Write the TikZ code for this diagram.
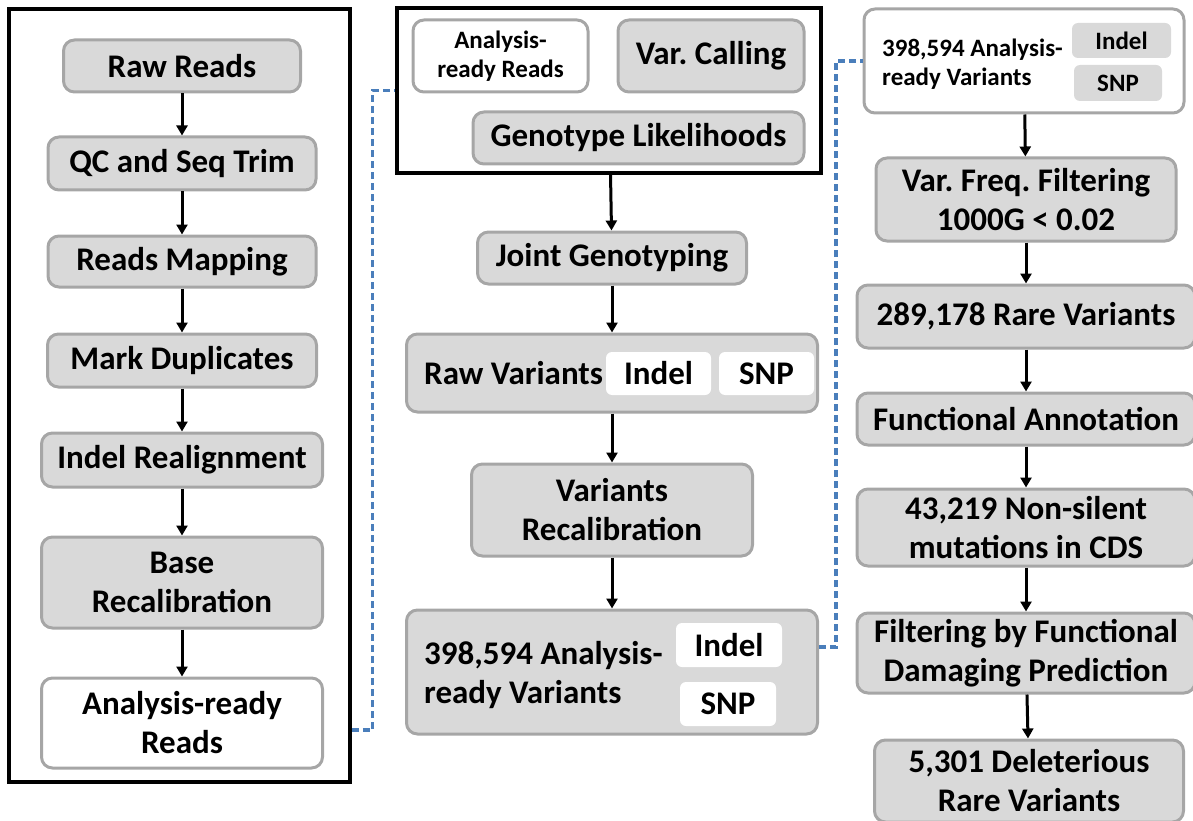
\documentclass[tikz,border=0pt]{standalone}
\usepackage{fontspec}
\setmainfont{Carlito}
\usetikzlibrary{arrows.meta}
\frenchspacing

\definecolor{boxfill}{HTML}{D9D9D9}
\definecolor{boxline}{HTML}{A6A6A6}
\definecolor{linkblue}{HTML}{4A7EBB}

\begin{document}
\begin{tikzpicture}[x=1pt, y=-1pt,
  stage/.style={draw=boxline, fill=boxfill, line width=3pt, rounded corners=11pt,
    align=center, inner sep=0pt, font=\bfseries\fontsize{33}{39}\selectfont},
  small/.style={font=\bfseries\fontsize{25}{29}\selectfont},
  label text/.style={anchor=west, align=left, inner sep=0pt, font=\bfseries\fontsize{33}{39}\selectfont},
  tag/.style={fill=white, rounded corners=6pt, inner sep=0pt, font=\bfseries\fontsize{33}{39}\selectfont},
  frame/.style={draw=black, line width=3.5pt, inner sep=0pt},
  flow/.style={line width=3pt, -{Triangle[length=10pt, width=11pt]}},
  link/.style={draw=linkblue, line width=3.3pt, dash pattern=on 7pt off 4pt}]
\useasboundingbox (0,0) rectangle (1193,821);
\clip (0,0) rectangle (1193,821);

% pre-processing
\node[frame, minimum width=341, minimum height=773] (leftbox) at (179.5,395.5) {};
\node[stage, minimum width=237, minimum height=52] (raw) at (182,66) {Raw Reads};
\node[stage, minimum width=268, minimum height=53] (qc) at (182,163.5) {QC and Seq Trim};
\node[stage, minimum width=268, minimum height=51] (map) at (182,261.5) {Reads Mapping};
\node[stage, minimum width=269, minimum height=53] (dup) at (182,360.5) {Mark Duplicates};
\node[stage, minimum width=281, minimum height=54] (realign) at (182,460) {Indel Realignment};
\node[stage, minimum width=281, minimum height=91] (bqsr) at (182,582.5) {Base\\Recalibration};
\node[stage, fill=white, minimum width=281, minimum height=90] (ready) at (182,723) {Analysis-ready\\Reads};

\draw[flow] (raw) -- (qc);
\draw[flow] (qc) -- (map);
\draw[flow] (map) -- (dup);
\draw[flow] (dup) -- (realign);
\draw[flow] (realign) -- (bqsr);
\draw[flow] (bqsr) -- (ready);

% calling
\node[frame, minimum width=424, minimum height=165] (midbox) at (609,90.5) {};
\node[stage, small, fill=white, minimum width=175, minimum height=72] (inready) at (500.5,56) {Analysis-\\ready Reads};
\node[stage, minimum width=186, minimum height=72] (call) at (711,56) {Var. Calling};
\node[stage, minimum width=331, minimum height=52] (gl) at (638.5,138) {Genotype Likelihoods};
\node[stage, minimum width=269, minimum height=52] (joint) at (612,258) {Joint Genotyping};
\node[stage, minimum width=411, minimum height=78] (rawvar) at (612,373) {};
\node[label text] (rawlbl) at (424,373) {Raw Variants};
\node[tag, minimum width=105, minimum height=43] (rawindel) at (658.5,373.5) {Indel};
\node[tag, minimum width=95, minimum height=43] (rawsnp) at (766.5,373.5) {SNP};
\node[stage, minimum width=281, minimum height=92] (vqsr) at (612,510) {Variants\\Recalibration};
\node[stage, minimum width=411, minimum height=124] (anvar) at (612,672) {};
\node[label text] (anlbl) at (424,675) {398,594 Analysis-\\ready Variants};
\node[tag, minimum width=106, minimum height=44] (anindel) at (729,645) {Indel};
\node[tag, minimum width=96, minimum height=44] (ansnp) at (728,704) {SNP};

\draw[flow] (midbox) -- (joint);
\draw[flow] (joint) -- (rawvar);
\draw[flow] (rawvar) -- (vqsr);
\draw[flow] (vqsr) -- (anvar);

% filtering
\node[stage, fill=white, minimum width=320, minimum height=104] (topvar) at (1024,61) {};
\node[label text, small] (toplbl) at (882,64) {398,594 Analysis-\\ready Variants};
\node[tag, small, fill=boxfill, minimum width=99, minimum height=35] (topindel) at (1121.5,40.5) {Indel};
\node[tag, small, fill=boxfill, minimum width=88, minimum height=36] (topsnp) at (1118,83) {SNP};
\node[stage, minimum width=300, minimum height=83] (freq) at (1026,199.5) {Var. Freq. Filtering\\1000G < 0.02};
\node[stage, minimum width=338, minimum height=63] (rare) at (1026,316.5) {289,178 Rare Variants};
\node[stage, minimum width=338, minimum height=52] (annot) at (1026,419) {Functional Annotation};
\node[stage, minimum width=338, minimum height=77] (nonsil) at (1026,527.5) {43,219 Non-silent\\mutations in CDS};
\node[stage, minimum width=338, minimum height=80] (damage) at (1026,653) {Filtering by Functional\\Damaging Prediction};
\node[stage, minimum width=309, minimum height=82] (delet) at (1029,781) {5,301 Deleterious\\Rare Variants};

\draw[flow] (topvar) -- (freq);
\draw[flow] (freq) -- (rare);
\draw[flow] (rare) -- (annot);
\draw[flow] (annot) -- (nonsil);
\draw[flow] (nonsil) -- (damage);
\draw[flow] (damage) -- (delet);

% hand-over links
\draw[link] (leftbox.east |- 0,730) -- ++(21,0) |- (midbox.west);
\draw[link] ([yshift=25pt]anvar.east) -- ++(17,0) |- (topvar.west);
\end{tikzpicture}
\end{document}
